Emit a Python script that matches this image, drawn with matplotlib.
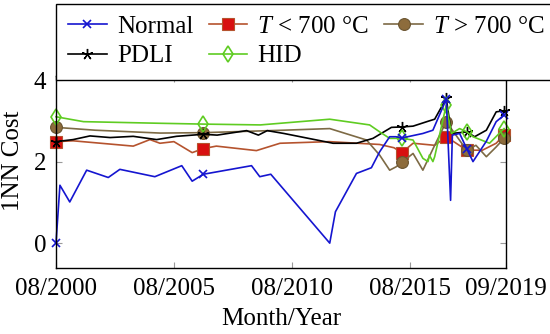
import matplotlib
matplotlib.use("Agg")
import matplotlib.pyplot as plt
from matplotlib.lines import Line2D

# ---------------- data (months since 08/2000) ----------------
normal_x = [0, 2, 7, 15.6, 26.6, 32.5, 50.3, 64, 69.3, 75, 99.5, 103.7, 109.3, 139.3, 142.2,
            152.9, 160.5, 164.7, 169.8, 173, 176, 186.7, 191.8, 198.6, 200.8, 201.7, 205.4,
            209, 212.2, 219, 224, 228]
normal_y = [0.0, 1.42, 1.01, 1.79, 1.61, 1.81, 1.63, 1.90, 1.52, 1.69, 1.90, 1.63, 1.69, 0.0, 0.77,
            1.71, 1.85, 2.24, 2.61, 2.61, 2.58, 2.69, 2.77, 3.53, 1.05, 2.65, 2.69,
            2.32, 2.0, 2.50, 2.98, 3.14]

tlow_x = [0, 8.7, 20.5, 39.3, 47.8, 52.9, 60, 69.3, 75, 81.6, 102, 114, 139, 164.7, 172, 176,
          181.7, 192.7, 198.6, 209, 217, 224, 228]
tlow_y = [2.49, 2.51, 2.46, 2.38, 2.54, 2.45, 2.49, 2.22, 2.32, 2.38, 2.27, 2.45, 2.49, 2.42, 2.34,
          2.22, 2.45, 2.40, 2.61, 2.28, 2.28, 2.45, 2.65]

thigh_x = [0, 20, 53, 75, 115.6, 139.3, 158, 164.7, 169.8, 173, 176, 181.7, 186.7, 192.7, 198.6,
           209, 213.7, 219, 224, 228]
thigh_y = [2.84, 2.77, 2.70, 2.71, 2.77, 2.81, 2.53, 2.16, 1.79, 1.87, 1.98, 2.20, 1.79, 2.40, 2.98,
           2.28, 2.40, 2.12, 2.36, 2.57]

pdli_x = [0, 8.7, 17.3, 27.5, 39.3, 51.2, 61.3, 75, 82, 97, 103, 107.5, 116, 141, 152.9, 161.3,
          170.7, 176, 181.7, 190, 192.7, 198.6, 201.2, 205.4, 209, 213, 219, 224, 228]
pdli_y = [2.49, 2.54, 2.63, 2.59, 2.62, 2.54, 2.62, 2.67, 2.65, 2.76, 2.65, 2.76, 2.69, 2.45, 2.45,
          2.57, 2.84, 2.85, 2.87, 3.00, 3.04, 3.55, 2.69, 2.71, 2.73, 2.61, 2.77, 3.22, 3.25]

hid_x = [0, 14, 53, 75, 104, 139.3, 159.6, 164.7, 169.8, 176, 181.7, 186.7, 189.3, 190, 191.8,
         192.7, 198.6, 201.2, 205.4, 209, 212.2, 220.6, 228]
hid_y = [3.10, 2.98, 2.94, 2.92, 2.90, 3.04, 2.90, 2.73, 2.57, 2.57, 2.53, 2.08, 2.00, 2.16, 2.00,
         2.12, 3.39, 2.69, 2.81, 2.73, 2.61, 2.45, 2.81]

marker_months = [0, 75, 176, 198.6, 209, 228]

tick_months = [0, 60, 120, 180, 229]
tick_labels = ["08/2000", "08/2005", "08/2010", "08/2015", "09/2019"]

labels = ["Normal", r"$T$ < 700 °C", r"$T$ > 700 °C", "PDLI", "HID"]

# ---------------- style ----------------
plt.rcParams["font.family"] = ["Liberation Serif", "DejaVu Serif"]
plt.rcParams["mathtext.fontset"] = "custom"
plt.rcParams["mathtext.rm"] = "Liberation Serif"
plt.rcParams["mathtext.it"] = "Liberation Serif:italic"
FS = 18

fig = plt.figure(figsize=(5.5, 3.34), dpi=100)
ax = fig.add_axes([56/550, (334-268)/334, (506-56)/550, (268-76)/334])


def mk_idx(xs):
    return [xs.index(m) for m in marker_months if m in xs]


series = [
    (normal_x, normal_y, dict(color="#1515d0", lw=1.2, marker="x", ms=6, mew=1.2,
                              mec="#1515d0")),
    (tlow_x, tlow_y, dict(color="#b5532e", lw=1.2, marker="s", ms=8.5, mfc="#d81010",
                          mec="#b5532e", mew=0.8)),
    (thigh_x, thigh_y, dict(color="#7d6a45", lw=1.2, marker="o", ms=8.5, mfc="#8d6c3c",
                            mec="#6a5430", mew=0.8)),
    (pdli_x, pdli_y, dict(color="black", lw=1.2, marker=(5, 2, 0), ms=8, mew=1.0,
                          mec="black")),
    (hid_x, hid_y, dict(color="#5fcc22", lw=1.2, marker="d", ms=8, mfc="none",
                        mec="#5fcc22", mew=1.2)),
]

handles = []
draw_order = [1, 2, 3, 4, 0]
for i in draw_order:
    xs, ys, st = series[i]
    ax.plot(xs, ys, markevery=mk_idx(xs), zorder=2 + (i == 0) * 0.5, clip_on=False, **st)
for i, (xs, ys, st) in enumerate(series):
    handles.append(Line2D([], [], **st))

ax.set_xlim(0, 229)
ax.set_ylim(-0.61, 4.1)
ax.set_xticks(tick_months)
ax.set_xticklabels(tick_labels)
ax.set_yticks([0, 2, 4])
ax.tick_params(direction="in", top=True, right=True, length=4, width=0.8,
               color="#9a9a9a", labelsize=FS, pad=7)
for s in ax.spines.values():
    s.set_linewidth(1.0)
    s.set_color("black")
    s.set_zorder(5)

ax.set_xlabel("Month/Year", fontsize=FS, labelpad=6)
ax.set_ylabel("1NN Cost", fontsize=FS)
ax.yaxis.set_label_coords(-0.072, 0.56)

order = [0, 3, 1, 4, 2]
leg = fig.legend([handles[k] for k in order], [labels[k] for k in order],
                 loc="upper left", ncol=3,
                 bbox_to_anchor=(56/550, 1 - 3.5/334),
                 bbox_transform=fig.transFigure, fontsize=FS, frameon=True,
                 fancybox=False, edgecolor="black", framealpha=1,
                 handlelength=1.55, handletextpad=0.4, columnspacing=0.62,
                 borderpad=0.48, labelspacing=0.28, borderaxespad=0)
leg.get_frame().set_linewidth(1.0)

fig.savefig("out.png", dpi=100)
